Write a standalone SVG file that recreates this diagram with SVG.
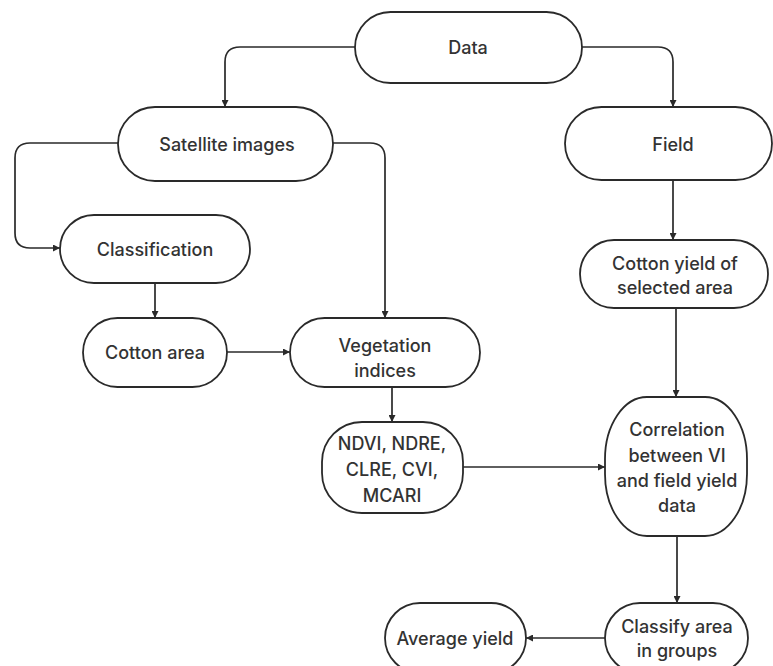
<svg xmlns="http://www.w3.org/2000/svg" width="773" height="666" viewBox="0 0 773 666">
<defs>
<style>
.n{fill:#fff;stroke:#2a2a2a;stroke-width:1.8}
.t{font-family:Inter,"Open Sans",sans-serif;font-size:18px;font-weight:500;fill:#333;text-anchor:middle;dominant-baseline:central}
.c{fill:none;stroke:#2a2a2a;stroke-width:1.7}
</style>
<marker id="ah" viewBox="0 0 10 10" refX="10" refY="5" markerWidth="7" markerHeight="7" markerUnits="userSpaceOnUse" orient="auto">
<path d="M0,0 L10,5 L0,10 z" fill="#2a2a2a"/>
</marker>
</defs>
<rect width="773" height="666" fill="#fff"/>
<g id="connectors">
<path class="c" marker-end="url(#ah)" d="M355,47 H240 Q225,47 225,62 V107"/>
<path class="c" marker-end="url(#ah)" d="M582,47 H658 Q673,47 673,62 V107"/>
<path class="c" marker-end="url(#ah)" d="M118,143 H30 Q15,143 15,158 V233 Q15,248 30,248 H60"/>
<path class="c" marker-end="url(#ah)" d="M333,143 H370 Q385,143 385,158 V318"/>
<path class="c" marker-end="url(#ah)" d="M155,283 V318"/>
<path class="c" marker-end="url(#ah)" d="M227,352 H290"/>
<path class="c" marker-end="url(#ah)" d="M392,387 V422"/>
<path class="c" marker-end="url(#ah)" d="M463,467 H605"/>
<path class="c" marker-end="url(#ah)" d="M673,180 V240"/>
<path class="c" marker-end="url(#ah)" d="M676,308 V397"/>
<path class="c" marker-end="url(#ah)" d="M677,536 V603"/>
<path class="c" marker-end="url(#ah)" d="M605,638 H526"/>
</g>
<g id="data"><rect class="n" x="355" y="12" width="227" height="71" rx="35.5"/><text class="t" x="468" y="47">Data</text></g>
<g id="satellite"><rect class="n" x="118" y="107" width="215" height="74" rx="37"/><text class="t" x="227" y="144">Satellite images</text></g>
<g id="field"><rect class="n" x="565" y="107" width="207" height="73" rx="36.5"/><text class="t" x="673" y="144">Field</text></g>
<g id="classification"><rect class="n" x="60" y="215" width="190" height="68" rx="34"/><text class="t" x="155" y="249">Classification</text></g>
<g id="cottonyield"><rect class="n" x="580" y="240" width="188" height="68" rx="34"/><text class="t" x="675" y="263">Cotton yield of</text><text class="t" x="675" y="287">selected area</text></g>
<g id="cottonarea"><rect class="n" x="83" y="318" width="144" height="69" rx="34.5"/><text class="t" x="155" y="352">Cotton area</text></g>
<g id="vegetation"><rect class="n" x="290" y="318" width="190" height="69" rx="34.5"/><text class="t" x="385" y="345">Vegetation</text><text class="t" x="385" y="370">indices</text></g>
<g id="indices"><rect class="n" x="322" y="422" width="141" height="91" rx="40"/><text class="t" x="392" y="443">NDVI, NDRE,</text><text class="t" x="392" y="469">CLRE, CVI,</text><text class="t" x="392" y="495">MCARI</text></g>
<g id="correlation"><rect class="n" x="605" y="397" width="142" height="139" rx="42" ry="62"/><text class="t" x="677" y="429">Correlation</text><text class="t" x="677" y="455">between VI</text><text class="t" x="677" y="480">and field yield</text><text class="t" x="677" y="505">data</text></g>
<g id="classify"><rect class="n" x="605" y="603" width="143" height="70" rx="35"/><text class="t" x="677" y="626">Classify area</text><text class="t" x="677" y="650">in groups</text></g>
<g id="average"><rect class="n" x="385" y="603" width="141" height="70" rx="35"/><text class="t" x="455" y="638">Average yield</text></g>
</svg>
